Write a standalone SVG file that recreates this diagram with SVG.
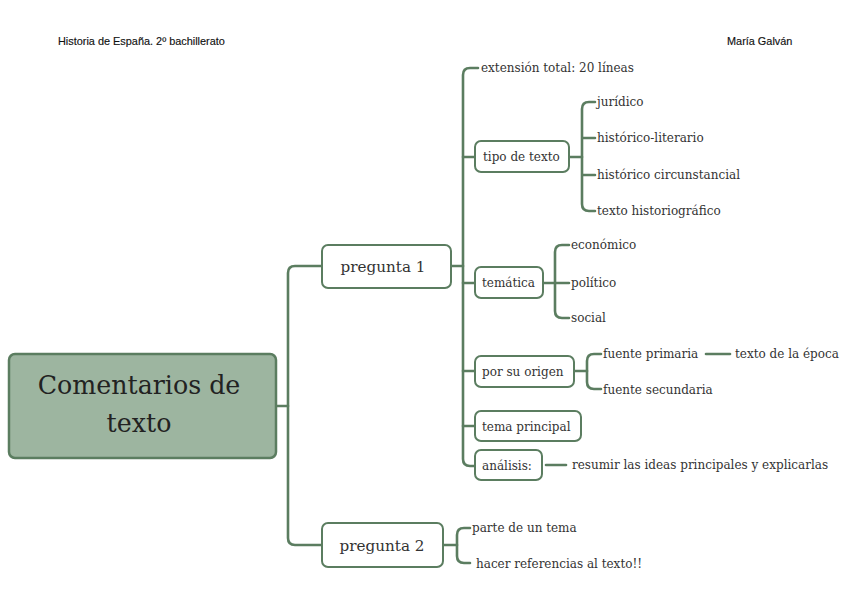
<svg xmlns="http://www.w3.org/2000/svg" width="848" height="599" viewBox="0 0 848 599">
<style>
.c{fill:none;stroke:#5b7d60;stroke-width:2.6;stroke-linecap:round}
.box{fill:#fff;stroke:#5b7d60;stroke-width:2}
.t{font-family:"DejaVu Serif","Liberation Serif",serif;fill:#333;font-size:12px}
.h{font-family:"Liberation Sans","DejaVu Sans",sans-serif;fill:#111;font-size:10.9px;stroke:#111;stroke-width:0.15}
.p{font-size:15.2px;text-anchor:middle}
</style>
<rect width="848" height="599" fill="#fff"/>
<text class="h" x="58" y="45">Historia de España. 2º bachillerato</text>
<text class="h" x="727" y="45">María Galván</text>
<g id="connectors">
<path class="c" d="M276 406 H288"/>
<path class="c" d="M322 266 H295 Q288 266 288 273 V538 Q288 545 295 545 H322"/>
<path class="c" d="M451 266 H463"/>
<path class="c" d="M478 68 H470 Q463 68 463 75 V459 Q463 466 470 466 H475"/>
<path class="c" d="M463 157 H475 M463 283 H475 M463 371 H475 M463 426 H475"/>
<path class="c" d="M569 157 H582"/>
<path class="c" d="M595 102 H589 Q582 102 582 109 V204 Q582 211 589 211 H595 M582 138 H595 M582 175 H595"/>
<path class="c" d="M543 283 H555"/>
<path class="c" d="M569 245 H562 Q555 245 555 252 V311 Q555 318 562 318 H569 M555 283 H569"/>
<path class="c" d="M574 371 H587"/>
<path class="c" d="M601 354 H594 Q587 354 587 361 V382 Q587 389 594 389 H601"/>
<path class="c" d="M706 354 H730"/>
<path class="c" d="M546 465 H566"/>
<path class="c" d="M443 545 H457"/>
<path class="c" d="M470 528 H464 Q457 528 457 535 V556 Q457 563 464 563 H470"/>
</g>
<g id="root">
<rect x="9" y="354" width="267" height="104" rx="6" fill="#9db5a0" stroke="#5b7d60" stroke-width="2.5"/>
<text class="t" x="139" y="394" text-anchor="middle" style="font-size:25.3px;fill:#222">Comentarios de</text>
<text class="t" x="139" y="432" text-anchor="middle" style="font-size:25.3px;fill:#222">texto</text>
</g>
<g id="pregunta1">
<rect class="box" x="322" y="245" width="129" height="43" rx="6"/>
<text class="t p" x="383" y="272">pregunta 1</text>
</g>
<g id="pregunta2">
<rect class="box" x="322" y="523" width="121" height="44" rx="6"/>
<text class="t p" x="382" y="551">pregunta 2</text>
</g>
<g id="extension"><text class="t" x="481" y="72">extensión total: 20 líneas</text></g>
<g id="tipo">
<rect class="box" x="475" y="141" width="94" height="31" rx="6"/>
<text class="t" x="483" y="161">tipo de texto</text>
</g>
<g id="juridico"><text class="t" x="597" y="106">jurídico</text></g>
<g id="historico-literario"><text class="t" x="597" y="142">histórico-literario</text></g>
<g id="historico-circunstancial"><text class="t" x="597" y="179">histórico circunstancial</text></g>
<g id="historiografico"><text class="t" x="597" y="215">texto historiográfico</text></g>
<g id="tematica">
<rect class="box" x="475" y="267" width="68" height="31" rx="6"/>
<text class="t" x="482" y="287">temática</text>
</g>
<g id="economico"><text class="t" x="571" y="249">económico</text></g>
<g id="politico"><text class="t" x="571" y="287">político</text></g>
<g id="social"><text class="t" x="571" y="322">social</text></g>
<g id="origen">
<rect class="box" x="475" y="356" width="99" height="31" rx="6"/>
<text class="t" x="482" y="376">por su origen</text>
</g>
<g id="primaria"><text class="t" x="603" y="358">fuente primaria</text></g>
<g id="epoca"><text class="t" x="735" y="358">texto de la época</text></g>
<g id="secundaria"><text class="t" x="603" y="394">fuente secundaria</text></g>
<g id="tema">
<rect class="box" x="475" y="411" width="106" height="30" rx="6"/>
<text class="t" x="482" y="431">tema principal</text>
</g>
<g id="analisis">
<rect class="box" x="475" y="450" width="67" height="30" rx="6"/>
<text class="t" x="482" y="470">análisis:</text>
</g>
<g id="resumir"><text class="t" x="572" y="469">resumir las ideas principales y explicarlas</text></g>
<g id="parte"><text class="t" x="472" y="532">parte de un tema</text></g>
<g id="referencias"><text class="t" x="476" y="568">hacer referencias al texto!!</text></g>
</svg>
